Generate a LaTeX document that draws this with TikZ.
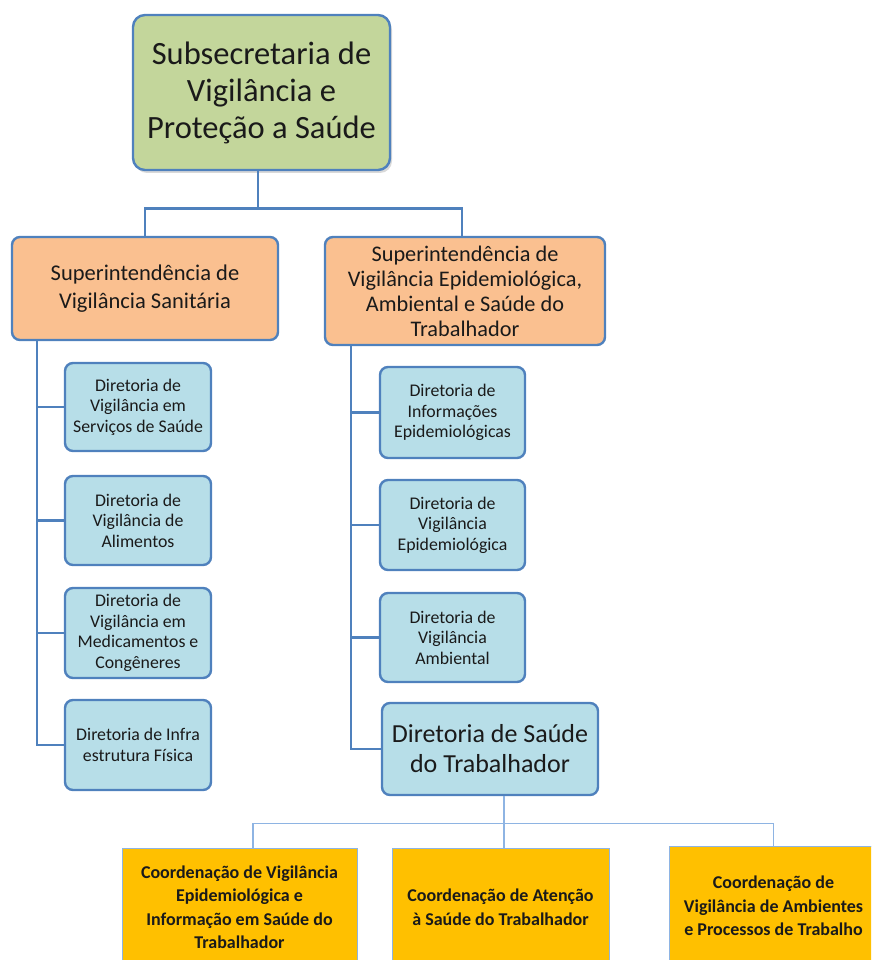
\documentclass[tikz,border=0pt]{standalone}
\usepackage{fontspec}
\setmainfont{Carlito}
\usetikzlibrary{shadows}
\definecolor{edgeblue}{HTML}{4F81BD}
\definecolor{linkblue}{HTML}{8EB4E3}
\definecolor{greenfill}{HTML}{C3D69B}
\definecolor{orangefill}{HTML}{FAC090}
\definecolor{bluefill}{HTML}{B7DEE8}
\definecolor{goldfill}{HTML}{FFC000}
\definecolor{inkc}{HTML}{1A1A1A}
\tikzset{
  box/.style={draw=edgeblue, line width=2.4pt, rounded corners=8pt, inner sep=0pt,
    align=center, text=inkc},
  topbox/.style={box, fill=greenfill, rounded corners=12pt,
    drop shadow={shadow xshift=2pt, shadow yshift=-3pt, opacity=0.25, fill=black!60},
    font=\fontsize{32.5}{37}\selectfont},
  supbox/.style={box, fill=orangefill, font=\fontsize{22.5}{28}\selectfont},
  dirbox/.style={box, fill=bluefill, minimum width=146pt, font=\fontsize{17.8}{20.5}\selectfont},
  bigdir/.style={box, fill=bluefill, font=\fontsize{26}{30}\selectfont},
  coordbox/.style={draw=linkblue, line width=1pt, fill=goldfill, inner sep=0pt,
    align=center, text=inkc, font=\bfseries\fontsize{18}{23.5}\selectfont},
  link/.style={draw=edgeblue, line width=2.6pt},
  thinlink/.style={draw=linkblue, line width=1.3pt},
}
\begin{document}
\begin{tikzpicture}[x=1pt, y=-1pt]
\useasboundingbox (0,0) rectangle (871,960);
\clip (0,0) rectangle (871,960);

% top level
\node[topbox, minimum width=257pt, minimum height=155pt] (top) at (261.5,92.5)
  {Subsecretaria de\\Vigilância e\\Proteção a Saúde};

% superintendencies
\node[supbox, minimum width=266pt, minimum height=103pt] (sl) at (145,288.5)
  {Superintendência de\\Vigilância Sanitária};
\node[supbox, minimum width=280pt, minimum height=108pt,
  font=\fontsize{22.3}{25}\selectfont] (sr) at (465,291)
  {Superintendência de\\Vigilância Epidemiológica,\\Ambiental e Saúde do\\Trabalhador};

% directorates, left column
\node[dirbox, minimum height=88pt] (d1) at (138,407) {Diretoria de\\Vigilância em\\Serviços de Saúde};
\node[dirbox, minimum height=89pt] (d2) at (138,520.5) {Diretoria de\\Vigilância de\\Alimentos};
\node[dirbox, minimum height=90pt] (d3) at (138,633) {Diretoria de\\Vigilância em\\Medicamentos e\\Congêneres};
\node[dirbox, minimum height=90pt] (d4) at (138,745) {Diretoria de Infra\\estrutura Física};

% directorates, right column
\node[dirbox, minimum width=145pt, minimum height=91pt] (e1) at (452.5,412.5) {Diretoria de\\Informações\\Epidemiológicas};
\node[dirbox, minimum width=145pt, minimum height=90pt] (e2) at (452.5,525) {Diretoria de\\Vigilância\\Epidemiológica};
\node[dirbox, minimum width=145pt, minimum height=89pt] (e3) at (452.5,637.5) {Diretoria de\\Vigilância\\Ambiental};
\node[bigdir, minimum width=216pt, minimum height=92pt] (big) at (490,749) {Diretoria de Saúde\\do Trabalhador};

% coordinations
\node[coordbox, minimum width=235pt, minimum height=118pt] (c1) at (239.5,907)
  {Coordenação de Vigilância\\Epidemiológica e\\Informação em Saúde do\\Trabalhador};
\node[coordbox, minimum width=217pt, minimum height=118pt] (c2) at (500.5,907)
  {Coordenação de Atenção\\à Saúde do Trabalhador};
\node[coordbox, minimum width=209pt, minimum height=120pt] (c3) at (773.5,906)
  {Coordenação de\\Vigilância de Ambientes\\e Processos de Trabalho};

% connectors: top to superintendencies
\draw[link] ([xshift=-3.5pt]top.south) -- ++(0,37) coordinate (tj);
\draw[link] (tj) -| (sl.north);
\draw[link] (tj) -| ([xshift=-3pt]sr.north);

% left spine
\coordinate (ls) at ([xshift=26pt]sl.south west);
\foreach \d in {d1,d2,d3,d4} \draw[link] (ls) |- (\d.west);

% right spine
\coordinate (rs) at ([xshift=27pt]sr.south west);
\foreach \d in {e1,e2,e3,big} \draw[link] (rs) |- (\d.west);

% thin connectors to the coordinations
\draw[thinlink] ([xshift=14pt]big.south) -- ++(0,27) coordinate (bj);
\draw[thinlink] (bj) -| ([xshift=13.5pt]c1.north);
\draw[thinlink] (bj) -| (c3.north);
\draw[thinlink] (bj) -- ([xshift=3.5pt]c2.north);
\end{tikzpicture}
\end{document}
